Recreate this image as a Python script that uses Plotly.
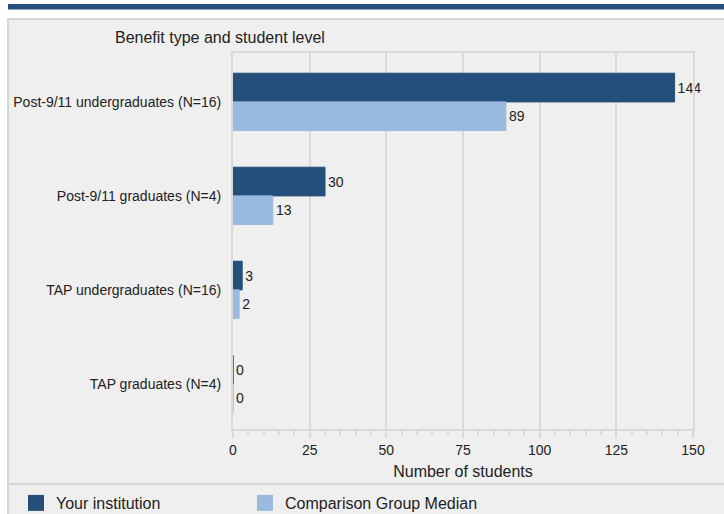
import plotly.graph_objects as go

categories = ["Post-9/11 undergraduates (N=16)", "Post-9/11 graduates (N=4)",
              "TAP undergraduates (N=16)", "TAP graduates (N=4)"]
your_institution = [144, 30, 3, 0]
comparison_median = [89, 13, 2, 0]
series_names = ["Your institution", "Comparison Group Median"]
x_ticks = [0, 25, 50, 75, 100, 125, 150]

DARK = "#254f7b"
LIGHT = "#9bbadf"
BG = "#efefef"
GRID = "#d9d9d9"
FONT = "Liberation Sans, Arial, sans-serif"

W, H = 724, 514
L, R, T, B = 233, 693, 53, 429
pw, ph = R - L, B - T


def px(x):
    return (x - L) / pw


def py(y):
    return (B - y) / ph


fig = go.Figure()
for name, vals, col in [(series_names[0], your_institution, DARK),
                        (series_names[1], comparison_median, LIGHT)]:
    fig.add_trace(go.Bar(
        y=categories, x=vals, name=name, orientation="h",
        marker=dict(color=col, line=dict(color=col, width=1)),
        text=[str(v) for v in vals], textposition="outside",
        textfont=dict(size=14, color="#222222", family=FONT),
        cliponaxis=False, showlegend=False, hoverinfo="skip",
    ))
for name, col, leg in [(series_names[0], DARK, "legend"), (series_names[1], LIGHT, "legend2")]:
    fig.add_trace(go.Scatter(
        x=[None], y=[None], mode="markers", name=name, legend=leg,
        marker=dict(symbol="square", size=17, color=col), showlegend=True,
    ))

shapes = [
    dict(type="rect", xref="paper", yref="paper", layer="below",
         x0=px(8), x1=px(W + 5), y0=py(19), y1=py(H + 5),
         fillcolor=BG, line=dict(color="#d6d6d6", width=2)),
    dict(type="rect", xref="paper", yref="paper", layer="below",
         x0=px(8), x1=px(W + 5), y0=py(4), y1=py(9.5),
         fillcolor=DARK, line=dict(width=0)),
    dict(type="line", xref="paper", yref="paper", layer="below",
         x0=px(8), x1=px(W + 5), y0=py(484), y1=py(484),
         line=dict(color="#d6d6d6", width=2)),
]

leg_common = dict(orientation="h", xref="container", yref="container",
                  y=1 - 503 / H, xanchor="left", yanchor="middle",
                  font=dict(size=16, family=FONT, color="#222222"),
                  bgcolor="rgba(0,0,0,0)", itemsizing="trace")

fig.update_layout(
    width=W, height=H,
    margin=dict(l=L, r=W - R, t=T, b=H - B, pad=0, autoexpand=False),
    paper_bgcolor="white", plot_bgcolor=BG,
    font=dict(family=FONT, size=14, color="#222222"),
    barmode="group", bargap=0.39, bargroupgap=0,
    shapes=shapes,
    showlegend=True,
    legend=dict(x=16 / W, **leg_common),
    legend2=dict(x=245 / W, **leg_common),
    annotations=[dict(text="Benefit type and student level", xref="paper", yref="paper",
                      x=px(113), y=py(38), xanchor="left", yanchor="middle",
                      showarrow=False, font=dict(size=16, family=FONT, color="#222222"))],
)

fig.update_xaxes(
    range=[0, 150], tickvals=x_ticks, showgrid=True, gridcolor=GRID, gridwidth=2,
    showline=True, linecolor=GRID, linewidth=2, mirror=True,
    ticks="outside", ticklen=7, tickwidth=2, tickcolor=GRID,
    minor=dict(dtick=5, ticks="outside", ticklen=4, tickwidth=2, tickcolor=GRID, showgrid=False),
    zeroline=False, tickfont=dict(size=14), automargin=False,
    title=dict(text="Number of students", font=dict(size=16), standoff=9),
)
fig.update_yaxes(
    autorange=False, range=[3.48, -0.52], showgrid=False,
    showline=True, linecolor=GRID, linewidth=2, mirror=True, automargin=False,
    ticks="", ticklabelstandoff=7, tickfont=dict(size=14),
)

fig.write_html("out.html", config={"displayModeBar": False},
               post_script="document.body.style.margin='0';")
